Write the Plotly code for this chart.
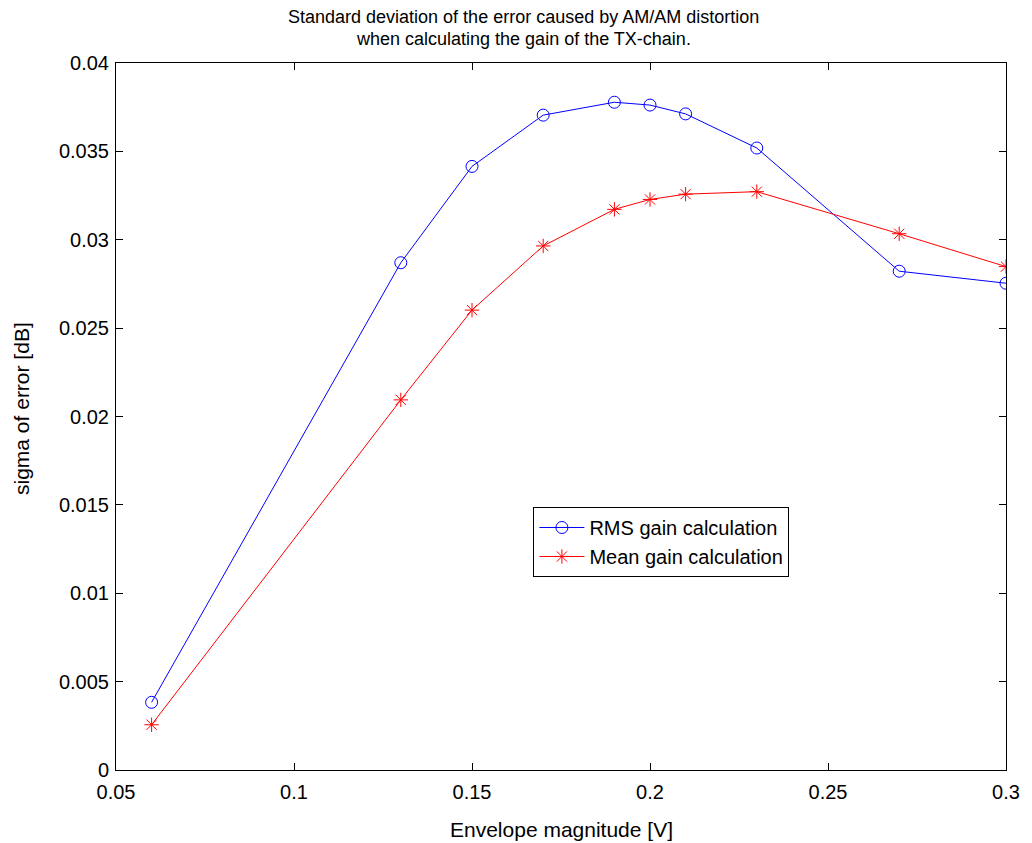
import plotly.graph_objects as go

# Envelope magnitudes [V] at which the error was evaluated
envelope = [0.06, 0.13, 0.15, 0.17, 0.19, 0.20, 0.21, 0.23, 0.27, 0.30]

# Standard deviation of the gain error [dB]
rms_sigma = [0.00383, 0.0287, 0.03415, 0.03705, 0.03778, 0.03762, 0.03712, 0.03519, 0.02822, 0.02754]
mean_sigma = [0.00256, 0.02094, 0.02602, 0.02965, 0.03172, 0.03228, 0.03258, 0.03272, 0.03034, 0.02848]

x_ticks = [0.05, 0.1, 0.15, 0.2, 0.25, 0.3]
x_tick_text = ["0.05", "0.1", "0.15", "0.2", "0.25", "0.3"]
y_ticks = [0, 0.005, 0.01, 0.015, 0.02, 0.025, 0.03, 0.035, 0.04]
y_tick_text = ["0", "0.005", "0.01", "0.015", "0.02", "0.025", "0.03", "0.035", "0.04"]

title_lines = ["Standard deviation of the error caused by AM/AM distortion",
               "when calculating the gain of the TX-chain."]
x_label = "Envelope magnitude [V]"
y_label = "sigma of error [dB]"

FONT = "Liberation Sans, Arial, sans-serif"
FS = 20

fig = go.Figure()
fig.add_trace(go.Scatter(
    x=envelope, y=rms_sigma, mode="lines+markers", name="RMS gain calculation",
    line=dict(color="#0000ff", width=1),
    marker=dict(symbol="circle-open", size=12, color="#0000ff", line=dict(width=1)),
))
fig.add_trace(go.Scatter(
    x=envelope, y=mean_sigma, mode="lines+markers", name="Mean gain calculation",
    line=dict(color="#ff0000", width=1),
    marker=dict(symbol="asterisk-open", size=12, color="#ff0000", line=dict(width=1, color="#ff0000")),
))

axis_common = dict(
    showline=True, linecolor="#000000", linewidth=1, mirror="allticks",
    ticks="inside", ticklen=7, tickcolor="#000000", showgrid=False, zeroline=False,
    tickfont=dict(family=FONT, size=FS, color="#000000"),
)

# Two-line title and axis labels placed as annotations
annotations = [
    dict(text=title_lines[0], xref="paper", yref="paper", x=412 / 900, y=1,
         yshift=46, showarrow=False, xanchor="center", yanchor="middle",
         font=dict(family=FONT, size=18, color="#000000")),
    dict(text=title_lines[1], xref="paper", yref="paper", x=412 / 900, y=1,
         yshift=24, showarrow=False, xanchor="center", yanchor="middle",
         font=dict(family=FONT, size=18, color="#000000")),
    dict(text=x_label, xref="paper", yref="paper", x=0.5, y=0,
         yshift=-59, showarrow=False, xanchor="center", yanchor="middle",
         font=dict(family=FONT, size=21, color="#000000")),
    dict(text=y_label, xref="paper", yref="paper", x=0, y=(770 - 409) / 707,
         xshift=-95, showarrow=False, xanchor="center", yanchor="middle", textangle=-90,
         font=dict(family=FONT, size=21, color="#000000")),
]

fig.update_layout(
    width=1032, height=843,
    margin=dict(l=116, r=16, t=63, b=73),
    paper_bgcolor="white", plot_bgcolor="white",
    font=dict(family=FONT, size=FS, color="#000000"),
    xaxis=dict(range=[0.05, 0.3], tickvals=x_ticks, ticktext=x_tick_text,
               ticklabelstandoff=4, **axis_common),
    yaxis=dict(range=[0, 0.04], tickvals=y_ticks, ticktext=y_tick_text,
               ticklabelstandoff=2, **axis_common),
    annotations=annotations,
    legend=dict(
        x=0.469, y=0.372, xanchor="left", yanchor="top",
        bgcolor="white", bordercolor="#000000", borderwidth=1,
        font=dict(family=FONT, size=FS, color="#000000"),
        tracegroupgap=0, itemwidth=45,
    ),
    showlegend=True,
)

fig.write_html("out.html")
